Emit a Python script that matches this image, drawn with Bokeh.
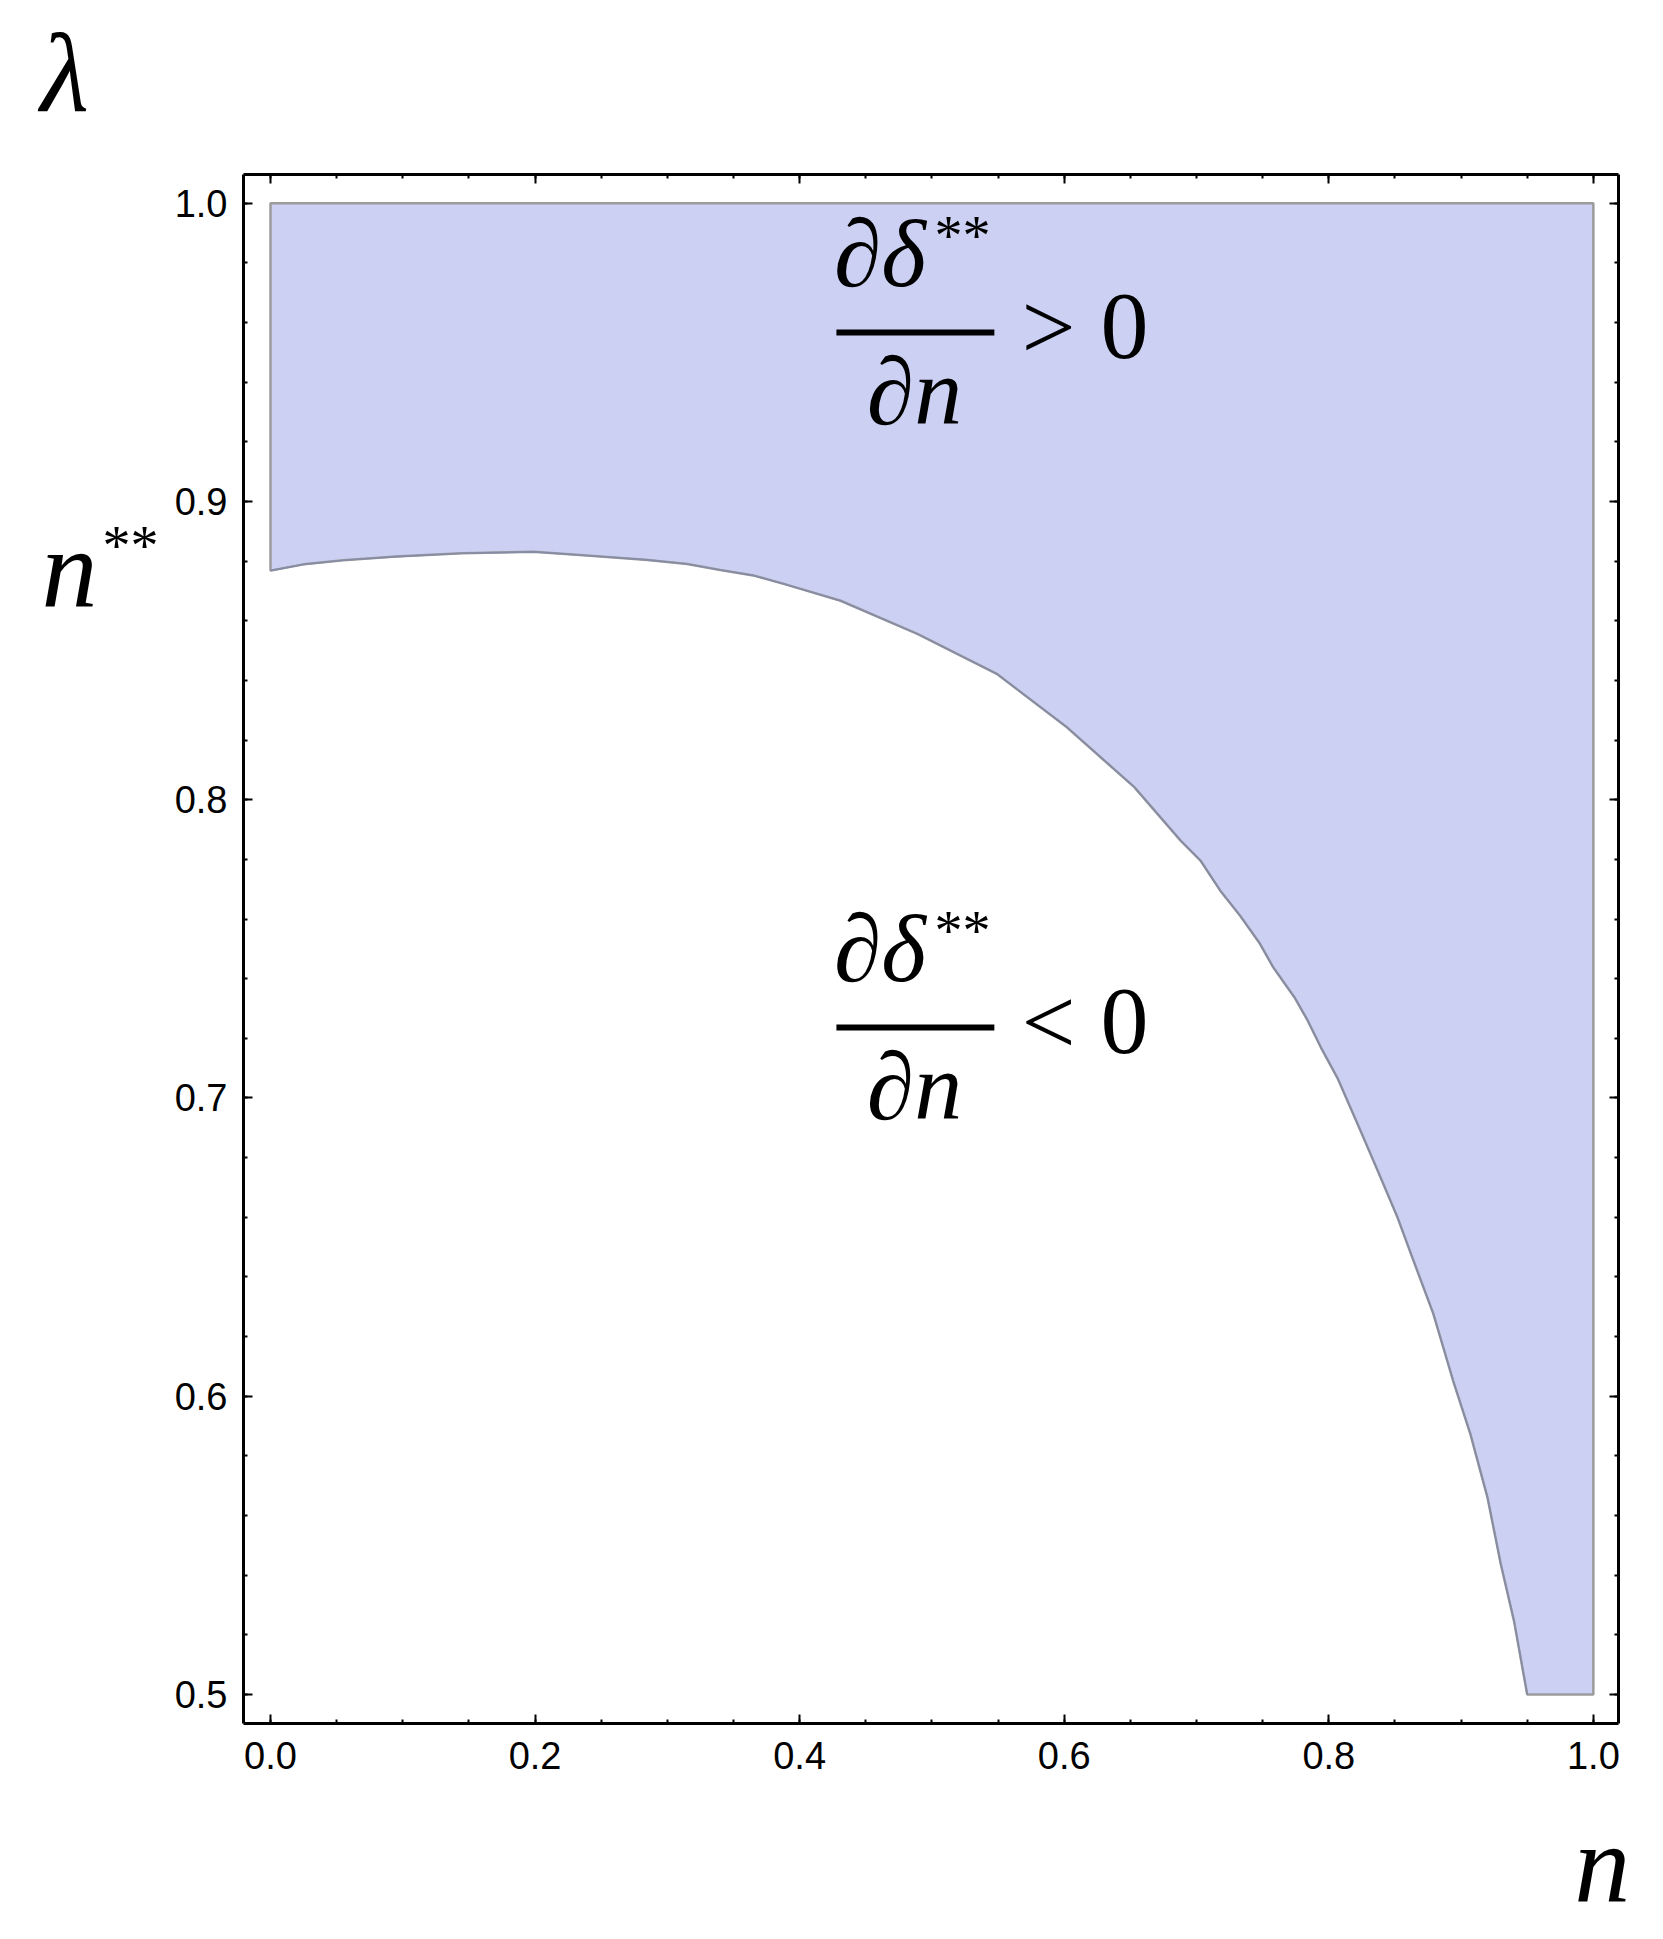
from bokeh.plotting import figure
from bokeh.models import (Range1d, FixedTicker, LinearAxis, Label, Title,
                          PrintfTickFormatter, CustomJSTickFormatter)
from bokeh.embed import file_html
from bokeh.resources import INLINE

# ---- data ----
curve_n = [0.000, 0.025, 0.055, 0.095, 0.145, 0.199, 0.247, 0.285, 0.315,
           0.340, 0.365, 0.390, 0.431, 0.489, 0.549, 0.602, 0.653, 0.688,
           0.703, 0.718, 0.733, 0.748, 0.758, 0.774, 0.784, 0.794, 0.807,
           0.824, 0.837, 0.852, 0.864, 0.879, 0.894, 0.907, 0.920, 0.930,
           0.940, 0.950]
curve_lambda = [0.8768, 0.8789, 0.8803, 0.8815, 0.8826, 0.8831, 0.8816, 0.8804,
                0.8790, 0.8770, 0.8752, 0.8721, 0.8667, 0.8556, 0.8422, 0.8243,
                0.8042, 0.7863, 0.7796, 0.7695, 0.7611, 0.7517, 0.7438, 0.7338,
                0.7260, 0.7170, 0.7063, 0.6890, 0.6756, 0.6599, 0.6455, 0.6277,
                0.6052, 0.5874, 0.5660, 0.5438, 0.5247, 0.5000]
n_min, n_max = 0.0, 1.0
lambda_min, lambda_max = 0.5, 1.0

x_ticks = [0.0, 0.2, 0.4, 0.6, 0.8, 1.0]
x_minor = [round(0.05 * i, 2) for i in range(21)]
y_ticks = [0.5, 0.6, 0.7, 0.8, 0.9, 1.0]
y_minor = [round(0.5 + 0.02 * i, 2) for i in range(26)]

FILL = "#CCD1F4"
EDGE = "#9C9C9C"
CURVE = "#868BA6"
SERIF = "Liberation Serif"
TICKFONT = "Liberation Sans"
BASE_FIX = 0.35  # em offset of the alphabetic baseline as rendered

p = figure(width=1647, height=1930,
           x_range=Range1d(-0.0204, 1.019), y_range=Range1d(0.4903, 1.0096),
           output_backend="svg", toolbar_location=None)
p.min_border_left = 243
p.min_border_right = 29
p.min_border_top = 174
p.min_border_bottom = 207
p.outline_line_color = None
p.background_fill_color = "white"
p.border_fill_color = "white"
p.xgrid.visible = False
p.ygrid.visible = False

# region where d delta / d n > 0 : above the curve
region_x = [n_min, n_max, n_max] + curve_n[::-1]
region_y = [lambda_max, lambda_max, lambda_min] + curve_lambda[::-1]
p.patch(region_x, region_y, fill_color=FILL, line_color=EDGE, line_width=2.5)
p.line(curve_n, curve_lambda, line_color=CURVE, line_width=1.6)

# axes (frame on all four sides)
p.add_layout(LinearAxis(), "above")
p.add_layout(LinearAxis(), "right")

def style(ax, ticks, minor, labelled):
    ax.ticker = FixedTicker(ticks=ticks, minor_ticks=minor)
    ax.axis_line_color = "black"
    ax.axis_line_width = 3
    ax.major_tick_in = 9
    ax.major_tick_out = 0
    ax.minor_tick_in = 4
    ax.minor_tick_out = 0
    ax.major_tick_line_width = 2
    ax.minor_tick_line_width = 2
    ax.major_tick_line_color = "black"
    ax.minor_tick_line_color = "black"
    if labelled:
        ax.formatter = PrintfTickFormatter(format="%.1f")
        ax.major_label_text_font = TICKFONT
        ax.major_label_text_font_size = "38px"
        ax.major_label_text_color = "black"
    else:
        ax.formatter = CustomJSTickFormatter(code="return ''")
        ax.major_label_standoff = 0

for ax in p.below:
    style(ax, x_ticks, x_minor, True)
    ax.major_label_standoff = 18
for ax in p.above:
    style(ax, x_ticks, x_minor, False)
    # blank labels that keep some room between the frame and the title
    ax.formatter = CustomJSTickFormatter(code="return ' '")
    ax.major_label_text_font_size = "10px"
    ax.major_label_standoff = 18
for ax in p.left:
    style(ax, y_ticks, y_minor, True)
    ax.major_label_standoff = 16
for ax in p.right:
    style(ax, y_ticks, y_minor, False)

# axis titles: horizontal text carried by bare extra axes
def side_text(side, text, at, size, italic, standoff):
    ax = LinearAxis(ticker=FixedTicker(ticks=[at], minor_ticks=[]),
                    formatter=CustomJSTickFormatter(code=f"return '{text}'"))
    ax.axis_line_color = None
    ax.major_tick_line_color = None
    ax.minor_tick_line_color = None
    ax.major_tick_in = 0
    ax.major_tick_out = 0
    ax.minor_tick_in = 0
    ax.minor_tick_out = 0
    ax.major_label_standoff = standoff
    ax.major_label_text_font = SERIF
    ax.major_label_text_font_size = f"{size}px"
    ax.major_label_text_font_style = "italic" if italic else "normal"
    ax.major_label_text_color = "black"
    p.add_layout(ax, side)

PX_PER_Y = 2982.6  # screen pixels per data unit along y
Y1_PX = 202.7      # screen row of lambda = 1.0
PX_PER_X = 1323.0  # screen pixels per data unit along x
X0_PX = 270.0      # screen column of n = 0

def y_of(px):
    return 1.0 - (px - Y1_PX) / PX_PER_Y

def x_of(px):
    return (px - X0_PX) / PX_PER_X

side_text("left", "**", y_of(565 - BASE_FIX * 56), 56, False, 13)
side_text("left", "n", y_of(608 - BASE_FIX * 112), 112, True, 2)
side_text("below", "n", x_of(1602), 112, True, 30)

p.add_layout(Title(text="λ", align="left", offset=-203, standoff=16,
                   text_font=SERIF, text_font_size="112px",
                   text_font_style="italic", text_color="black"), "above")

def lab(x, y, t, size, italic=True):
    # y is the wanted baseline in data units; correct for rendering offset
    y_fix = y + BASE_FIX * size / PX_PER_Y
    p.add_layout(Label(x=x, y=y_fix, text=t, text_font=SERIF,
                       text_font_size=f"{size}px",
                       text_font_style="italic" if italic else "normal",
                       text_align="center", text_baseline="alphabetic",
                       text_color="black"))

# fraction annotations
ann_x_num = 0.4607
ann_x_star = 0.5231
ann_x_den = 0.4868
ann_x_rel = 0.5881
ann_x_zero = 0.6455
bar_x0, bar_x1 = 0.4278, 0.5472
blocks = [(0.0, ">"), (-0.23302, "<")]
for dy, rel in blocks:
    lab(ann_x_num, 0.97174 + dy, "∂δ", 96)
    lab(ann_x_star, 0.98246 + dy, "**", 56, italic=False)
    lab(ann_x_den, 0.92547 + dy, "∂n", 96)
    lab(ann_x_rel, 0.94726 + dy, rel, 96, italic=False)
    lab(ann_x_zero, 0.94726 + dy, "0", 96, italic=False)
    p.segment(x0=[bar_x0], y0=[0.95665 + dy], x1=[bar_x1], y1=[0.95665 + dy],
              line_color="black", line_width=6)

open("out.html", "w").write(file_html(p, INLINE))
